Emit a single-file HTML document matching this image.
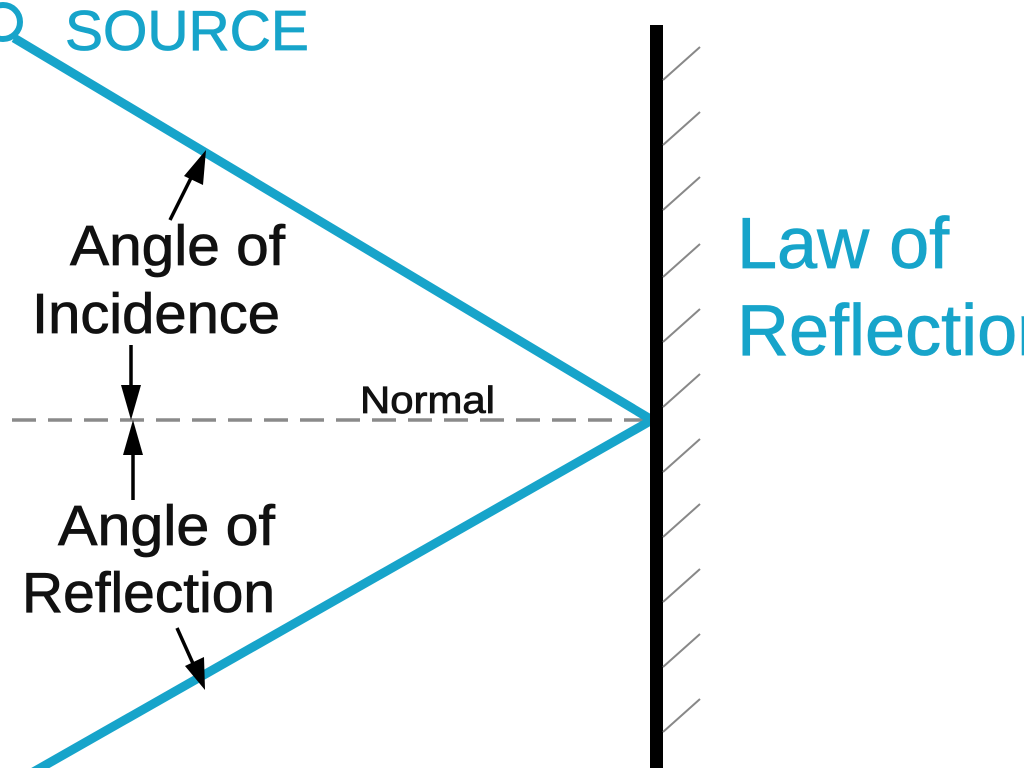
<!DOCTYPE html>
<html><head><meta charset="utf-8"><style>
html,body{margin:0;padding:0;background:#fff;width:1024px;height:768px;overflow:hidden}
svg{display:block}
text{font-family:"Liberation Sans",Arial,sans-serif}
</style></head><body>
<svg width="1024" height="768" viewBox="0 0 1024 768" xmlns="http://www.w3.org/2000/svg">
<!-- normal -->
<line x1="12" y1="420" x2="645" y2="420" stroke="#8a8a8a" stroke-width="3.5" stroke-dasharray="24,12"/>
<!-- rays -->
<line x1="14" y1="38" x2="652" y2="420" stroke="#17a4ca" stroke-width="9"/>
<line x1="652" y1="420" x2="28" y2="775" stroke="#17a4ca" stroke-width="9"/>
<circle cx="3" cy="22" r="17" fill="none" stroke="#17a4ca" stroke-width="6"/>
<!-- mirror -->
<rect x="650" y="25" width="13" height="750" fill="#000"/>
<g stroke="#888" stroke-width="2">
<line x1="663" y1="80" x2="700" y2="47"/>
<line x1="663" y1="145" x2="700" y2="112"/>
<line x1="663" y1="210" x2="700" y2="177"/>
<line x1="663" y1="277" x2="700" y2="244"/>
<line x1="663" y1="342" x2="700" y2="309"/>
<line x1="663" y1="407" x2="700" y2="374"/>
<line x1="663" y1="472" x2="700" y2="439"/>
<line x1="663" y1="537" x2="700" y2="504"/>
<line x1="663" y1="602" x2="700" y2="569"/>
<line x1="663" y1="667" x2="700" y2="634"/>
<line x1="663" y1="732" x2="700" y2="699"/>
</g>
<!-- arrows -->
<g stroke="#000" stroke-width="3.5" fill="none">
<line x1="170" y1="220" x2="195" y2="170"/>
<line x1="131" y1="345" x2="131" y2="395"/>
<line x1="133" y1="500" x2="133" y2="445"/>
<line x1="177" y1="628" x2="195" y2="668"/>
</g>
<g fill="#000">
<polygon points="206,150 203,185 184,176"/>
<polygon points="131,420 121,385 141,385"/>
<polygon points="133,420 123,455 143,455"/>
<polygon points="205,690 185,666 204,657"/>
</g>
<!-- text -->
<g stroke-width="0.8">
<text x="65" y="50" font-size="57" fill="#17a4ca" stroke="#17a4ca">SOURCE</text>
<text x="737" y="268" font-size="72" fill="#17a4ca" stroke="#17a4ca">Law of</text>
<text x="737" y="355" font-size="72" fill="#17a4ca" stroke="#17a4ca">Reflection</text>
<text x="70" y="265" font-size="57" fill="#111" stroke="#111" textLength="215" lengthAdjust="spacingAndGlyphs">Angle of</text>
<text x="32" y="333" font-size="57" fill="#111" stroke="#111" textLength="248" lengthAdjust="spacingAndGlyphs">Incidence</text>
<text x="58" y="545" font-size="57" fill="#111" stroke="#111" textLength="217" lengthAdjust="spacingAndGlyphs">Angle of</text>
<text x="22" y="612" font-size="57" fill="#111" stroke="#111" textLength="253" lengthAdjust="spacingAndGlyphs">Reflection</text>
<text x="360" y="413" font-size="38" fill="#111" stroke="#111" textLength="135" lengthAdjust="spacingAndGlyphs">Normal</text>
</g>
</svg>
</body></html>
